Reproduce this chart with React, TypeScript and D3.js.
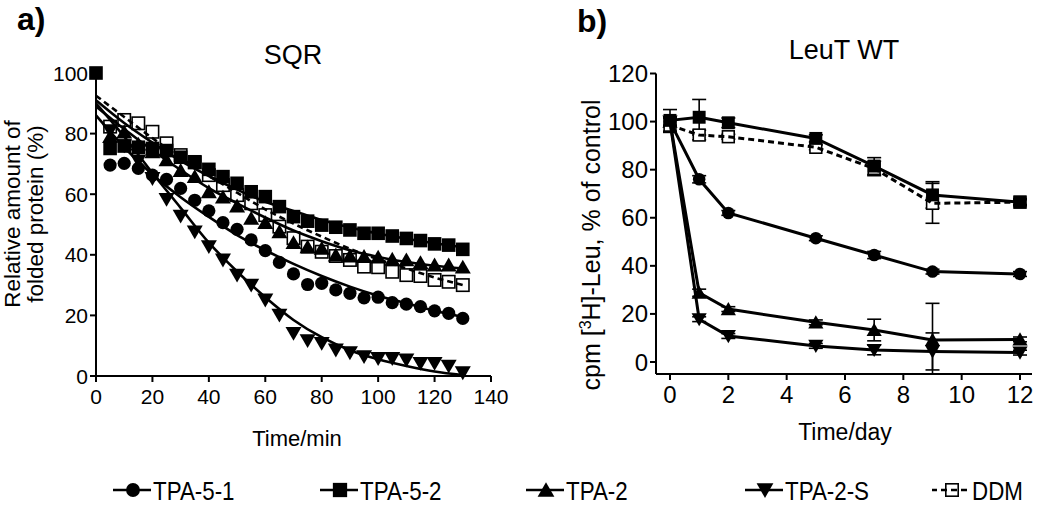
import React from "react";
import * as d3 from "d3";

// ---------- Panel a (SQR) data ----------
const timesA = [0, 5, 10, 15, 20, 25, 30, 35, 40, 45, 50, 55, 60, 65, 70, 75, 80, 85, 90, 95, 100, 105, 110, 115, 120, 125, 130];
const sqrTPA51 = [null, 69.6, 70.2, 68.5, 66.3, 64.9, 61.9, 58, 54.5, 50.6, 48.4, 44.9, 41.4, 37.5, 33.7, 30.2, 30.6, 28.4, 27.3, 25.8, 26.0, 24.2, 23.7, 22.9, 21.5, 20.7, 19.0];
const sqrTPA52 = [100, 75.1, 75.9, 75.5, 75.1, 74.4, 72.2, 70.7, 68.2, 65.8, 63.6, 60.8, 59.2, 55.9, 52.6, 51.1, 49.8, 49.1, 48.2, 47.1, 47.1, 46.2, 45.4, 44.7, 43.6, 43.2, 41.8];
const sqrTPA2 = [null, 79, 80.5, 76.5, 74, 71.3, 67.8, 65.8, 60.8, 59, 56.1, 52, 50.6, 47.6, 44, 42.6, 42.1, 39.9, 39.6, 39.4, 39.2, 38.5, 38.3, 37.4, 36.6, 36.6, 35.9];
const sqrTPA2S = [null, 81, 76, 71, 65.2, 58.3, 52.8, 47.6, 42.7, 38.3, 33.3, 30, 25.1, 20.1, 14.1, 11.7, 10.8, 8.6, 7.7, 6.4, 5.8, 5.8, 5.3, 4.2, 4.2, 3.3, 1.1];
const sqrDDM = [null, 82.3, 84.5, 83.4, 80.6, 76.8, 72.9, 70.5, 66.3, 63, 59.7, 57, 53.1, 49.3, 45.5, 42.7, 41, 39.6, 38.3, 36.1, 35.9, 34.4, 33.3, 33, 31.7, 31.1, 30];

// fitted curves
const fitTimes = [0, 10, 20, 30, 40, 50, 60, 70, 80, 90, 100, 110, 120, 130];
const fitTPA51 = [86, 75.5, 66.5, 59, 52.5, 46.5, 41.5, 37, 33, 29.5, 26.5, 24, 21.5, 19.5];
const fitTPA52 = [91, 83.5, 77, 71, 66, 61.5, 57.5, 54.5, 51.5, 49, 47, 45.3, 43.8, 42.5];
const fitTPA2 = [89, 81.5, 74.5, 68, 62, 57, 52.3, 48, 44.5, 41.5, 39.3, 37.6, 36.4, 35.5];
const fitTPA2S = [90, 79, 67, 55.5, 44, 34.5, 26, 18.5, 12.8, 8.5, 5.5, 3.3, 1.5, 0.3];
const fitDDM = [92.5, 85.5, 78.5, 72, 66, 60.5, 55, 50.3, 46, 42, 38.5, 35.5, 32.5, 30];

const ticksAx = [0, 20, 40, 60, 80, 100, 120, 140];
const ticksAy = [0, 20, 40, 60, 80, 100];

// ---------- Panel b (LeuT WT) data ----------
const daysB = [0, 1, 2, 5, 7, 9, 12];
const leuTPA51 = [100, 76, 62, 51.5, 44.5, 37.6, 36.6];
const leuTPA51Err = [1.5, 1.5, 1, 1, 1.5, 1, 1];
const leuTPA52 = [100.5, 101.8, 99.5, 93, 81.5, 69.5, 66.5];
const leuTPA52Err = [4.5, 7.4, 2, 1.5, 3.5, 5.5, 1.5];
const leuTPA2 = [100, 28.8, 22, 16.5, 13.3, 9.2, 9.4];
const leuTPA2Err = [2, 1.5, 1, 1, 4.5, 15.2, 1];
const leuTPA2S = [100, 17.8, 10.8, 6.7, 5, 4.4, 3.9];
const leuTPA2SErr = [2, 1, 1, 1, 2, 7.7, 1];
const leuDDM = [98.5, 94.4, 93.7, 89.3, 80.5, 66, 66.5];
const leuDDMErr = [3, 2, 1, 1, 3, 8.3, 1];

const ticksBx = [0, 2, 4, 6, 8, 10, 12];
const ticksBy = [0, 20, 40, 60, 80, 100, 120];

const legendNames = ["TPA-5-1", "TPA-5-2", "TPA-2", "TPA-2-S", "DDM"];
const markerKinds = ["circle", "square", "triangle", "triangleDown", "openSquare"];

const FONT = "'Liberation Sans', Arial, Helvetica, sans-serif";

function Marker({ kind, x, y, s = 1 }: { kind: string; x: number; y: number; s?: number }) {
  if (kind === "circle") return <circle cx={x} cy={y} r={6.6 * s} fill="#000" />;
  if (kind === "square") {
    const h = 6.8 * s;
    return <rect x={x - h} y={y - h} width={2 * h} height={2 * h} fill="#000" />;
  }
  if (kind === "openSquare") {
    const h = 6.2 * s;
    return <rect x={x - h} y={y - h} width={2 * h} height={2 * h} fill="#fff" stroke="#000" strokeWidth={1.6} />;
  }
  if (kind === "triangle") {
    const w = 8 * s, hh = 7.5 * s;
    return <path d={`M${x},${y - hh}L${x + w},${y + hh * 0.85}L${x - w},${y + hh * 0.85}Z`} fill="#000" />;
  }
  const w = 8 * s, hh = 7.5 * s;
  return <path d={`M${x},${y + hh}L${x + w},${y - hh * 0.85}L${x - w},${y - hh * 0.85}Z`} fill="#000" />;
}

export default function App() {
  // panel a scales
  const xA = d3.scaleLinear().domain([0, 140]).range([96, 491]);
  const yA = d3.scaleLinear().domain([0, 100]).range([376, 73]);
  // panel b scales
  const xB = d3.scaleLinear().domain([0, 12]).range([670, 1020]);
  const yB = d3.scaleLinear().domain([0, 120]).range([362, 73.5]);

  const seriesA = [sqrTPA51, sqrTPA52, sqrTPA2, sqrTPA2S, sqrDDM];
  const fitsA = [fitTPA51, fitTPA52, fitTPA2, fitTPA2S, fitDDM];
  const seriesB = [leuTPA51, leuTPA52, leuTPA2, leuTPA2S, leuDDM];
  const errsB = [leuTPA51Err, leuTPA52Err, leuTPA2Err, leuTPA2SErr, leuDDMErr];

  const fitLine = d3
    .line<number>()
    .x((_, i) => xA(fitTimes[i]))
    .y((d) => yA(d))
    .curve(d3.curveMonotoneX);
  const bLine = d3
    .line<number>()
    .x((_, i) => xB(daysB[i]))
    .y((d) => yB(d));

  const drawOrderA = [4, 2, 0, 3, 1];
  const drawOrderB = [0, 2, 3, 4, 1];

  const legendX = [133, 340, 546, 765, 952];

  return (
    <svg width={1050} height={506} style={{ display: "block", position: "absolute", left: 0, top: 0, background: "#fff" }} fontFamily={FONT}>
      <defs>
        <clipPath id="clipB">
          <rect x={640} y={40} width={410} height={333} />
        </clipPath>
      </defs>
      <rect x={0} y={0} width={1050} height={506} fill="#fff" />
      {/* panel labels */}
      <text x={17} y={30} fontSize={32} fontWeight="bold">a)</text>
      <text x={577} y={32} fontSize={32} fontWeight="bold">b)</text>
      <text x={293} y={64} fontSize={27} textAnchor="middle">SQR</text>
      <text x={844} y={59} fontSize={27} textAnchor="middle">LeuT WT</text>

      {/* ---------- panel a axes ---------- */}
      <g stroke="#000" strokeWidth={2}>
        <line x1={96} y1={73} x2={96} y2={376} />
        <line x1={96} y1={376} x2={491} y2={376} />
        {ticksAy.map((t) => (
          <line key={"ay" + t} x1={90} x2={96} y1={yA(t)} y2={yA(t)} />
        ))}
        {ticksAx.map((t) => (
          <line key={"ax" + t} x1={xA(t)} x2={xA(t)} y1={376} y2={382} />
        ))}
      </g>
      {ticksAy.map((t) => (
        <text key={"aty" + t} x={88} y={yA(t) + 7.5} fontSize={21} textAnchor="end">{t}</text>
      ))}
      {ticksAx.map((t) => (
        <text key={"atx" + t} x={xA(t)} y={404} fontSize={21} textAnchor="middle">{t}</text>
      ))}
      <text x={297} y={446} fontSize={22} textAnchor="middle">Time/min</text>
      <text transform="translate(20,214) rotate(-90)" fontSize={22.5} textAnchor="middle">Relative amount of</text>
      <text transform="translate(43,214) rotate(-90)" fontSize={22.5} textAnchor="middle">folded protein (%)</text>

      {/* panel a markers */}
      {drawOrderA.map((si) =>
        seriesA[si].map((v, i) =>
          v == null ? null : <Marker key={`am${si}-${i}`} kind={markerKinds[si]} x={xA(timesA[i])} y={yA(v)} />
        )
      )}
      {/* panel a fitted curves */}
      {fitsA.map((f, si) => (
        <path
          key={"af" + si}
          d={fitLine(f) || ""}
          fill="none"
          stroke="#000"
          strokeWidth={2.6}
          strokeDasharray={si === 4 ? "6,4" : undefined}
        />
      ))}

      {/* ---------- panel b axes ---------- */}
      <g stroke="#000" strokeWidth={2}>
        <line x1={656} y1={73.5} x2={656} y2={374} />
        <line x1={656} y1={374} x2={1032} y2={374} />
        {ticksBy.map((t) => (
          <line key={"by" + t} x1={650} x2={656} y1={yB(t)} y2={yB(t)} />
        ))}
        {ticksBx.map((t) => (
          <line key={"bx" + t} x1={xB(t)} x2={xB(t)} y1={374} y2={380} />
        ))}
      </g>
      {ticksBy.map((t) => (
        <text key={"bty" + t} x={648} y={yB(t) + 8.5} fontSize={24} textAnchor="end">{t}</text>
      ))}
      {ticksBx.map((t) => (
        <text key={"btx" + t} x={xB(t)} y={403} fontSize={24} textAnchor="middle">{t}</text>
      ))}
      <text x={845} y={440} fontSize={23} textAnchor="middle">Time/day</text>
      <text transform="translate(600,245) rotate(-90)" fontSize={25} textAnchor="middle">
        cpm [<tspan dy={-9} fontSize={16}>3</tspan><tspan dy={9}>H]-Leu, % of control</tspan>
      </text>

      {/* panel b error bars */}
      <g stroke="#000" strokeWidth={1.6} clipPath="url(#clipB)">
        {drawOrderB.map((si) =>
          seriesB[si].map((v, i) => {
            const e = errsB[si][i];
            const x = xB(daysB[i]);
            return (
              <g key={`be${si}-${i}`}>
                <line x1={x} x2={x} y1={yB(v - e)} y2={yB(v + e)} />
                <line x1={x - 7} x2={x + 7} y1={yB(v + e)} y2={yB(v + e)} />
                <line x1={x - 7} x2={x + 7} y1={yB(v - e)} y2={yB(v - e)} />
              </g>
            );
          })
        )}
      </g>
      {/* panel b markers */}
      {drawOrderB.map((si) =>
        seriesB[si].map((v, i) => (
          <Marker key={`bm${si}-${i}`} kind={markerKinds[si]} x={xB(daysB[i])} y={yB(v)} s={0.95} />
        ))
      )}
      {/* panel b lines */}
      {seriesB.map((s, si) => (
        <path
          key={"bl" + si}
          d={bLine(s) || ""}
          fill="none"
          stroke="#000"
          strokeWidth={3}
          strokeDasharray={si === 4 ? "6,4" : undefined}
        />
      ))}

      {/* ---------- legend ---------- */}
      {legendNames.map((n, i) => {
        const cx = legendX[i];
        return (
          <g key={"lg" + i}>
            {i === 4 ? (
              <>
                <Marker kind={markerKinds[i]} x={cx} y={490} />
                <line x1={cx - 20} x2={cx + 18} y1={490} y2={490} stroke="#000" strokeWidth={2.6} strokeDasharray="6,4" strokeDashoffset={1} />
              </>
            ) : (
              <>
                <line x1={cx - 20} x2={cx + 18} y1={490} y2={490} stroke="#000" strokeWidth={2.6} />
                <Marker kind={markerKinds[i]} x={cx} y={490} s={1.05} />
              </>
            )}
            <text transform={`translate(${cx + 20},500) scale(0.86,1)`} fontSize={26}>{n}</text>
          </g>
        );
      })}
    </svg>
  );
}
